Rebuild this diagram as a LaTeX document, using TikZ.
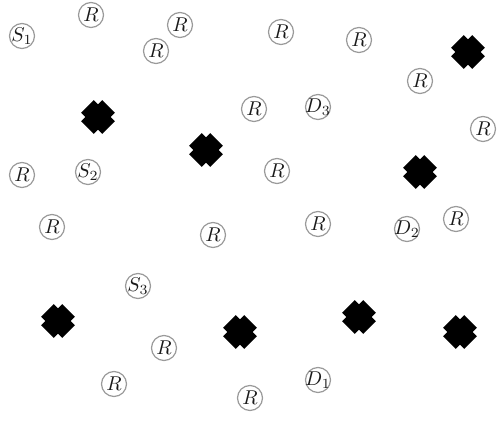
\documentclass[tikz,border=0pt]{standalone}
\usepackage{tikz}
\definecolor{SiteRim}{HTML}{9A9A9A}
\definecolor{SiteInk}{HTML}{1A1A1A}

\begin{document}
\begin{tikzpicture}[
  x=0.5pt,y=-0.5pt,
  site/.style={circle,draw=SiteRim,line width=0.6pt,minimum size=12.5pt,inner sep=-1.5pt,text=SiteInk,font=\normalsize},
  blocker/.pic={
    \fill[black,rotate=45] (-15,-9) rectangle (15,9);
    \fill[black,rotate=45] (-9,-15) rectangle (9,15);
  },
]
\useasboundingbox (0,0) rectangle (498,422);
% sources and destinations
\node[site] (s1) at (22,36) {$S_1$};
\node[site] (s2) at (88,172) {$S_2$};
\node[site] (s3) at (138,286) {$S_3$};
\node[site] (d1) at (318,380) {$D_1$};
\node[site] (d2) at (407,229) {$D_2$};
\node[site] (d3) at (318,107) {$D_3$};
% relays
\node[site] (r1) at (91,15) {$R$};
\node[site] (r2) at (180,25) {$R$};
\node[site] (r3) at (156,51) {$R$};
\node[site] (r4) at (281,32) {$R$};
\node[site] (r5) at (359,40) {$R$};
\node[site] (r6) at (420,81) {$R$};
\node[site] (r7) at (254,109) {$R$};
\node[site] (r8) at (483,129) {$R$};
\node[site] (r9) at (22,175) {$R$};
\node[site] (r10) at (277,171) {$R$};
\node[site] (r11) at (52,227) {$R$};
\node[site] (r12) at (213,235) {$R$};
\node[site] (r13) at (318,224) {$R$};
\node[site] (r14) at (456,219) {$R$};
\node[site] (r15) at (164,348) {$R$};
\node[site] (r16) at (114,384) {$R$};
\node[site] (r17) at (250,398) {$R$};
% obstacles
\pic at (98,117) {blocker};
\pic at (206,150) {blocker};
\pic at (468,52) {blocker};
\pic at (420,172) {blocker};
\pic at (58,321) {blocker};
\pic at (240,332) {blocker};
\pic at (359,317) {blocker};
\pic at (460,332) {blocker};
\end{tikzpicture}
\end{document}
